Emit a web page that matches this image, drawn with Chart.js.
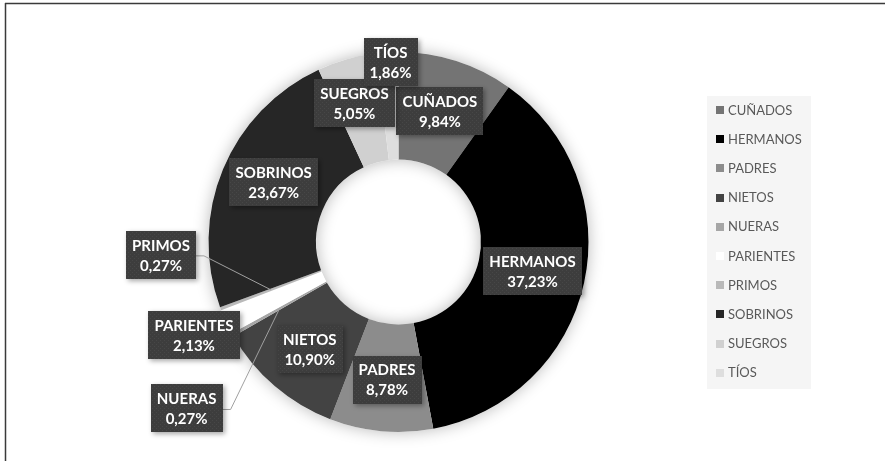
<!DOCTYPE html>
<html>
<head>
<meta charset="utf-8">
<script src="https://cdn.jsdelivr.net/npm/chart.js@4.4.1/dist/chart.umd.min.js"></script>
<style>
  html, body { margin: 0; padding: 0; background: #ffffff; }
  #wrap { width: 885px; height: 461px; position: relative; }
</style>
</head>
<body>
<div id="wrap"><canvas id="c" width="885" height="461"></canvas></div>
<script>
// Reparto por parentesco (%)
const categories = ['CUÑADOS', 'HERMANOS', 'PADRES', 'NIETOS', 'NUERAS', 'PARIENTES', 'PRIMOS', 'SOBRINOS', 'SUEGROS', 'TÍOS'];
const shares = [9.84, 37.23, 8.78, 10.90, 0.27, 2.13, 0.27, 23.67, 5.05, 1.86];
const sliceColors = ['#747474', '#000000', '#8c8c8c', '#434343', '#a6a6a6', '#ffffff', '#b9b9b9', '#262626', '#d0d0d0', '#dedede'];

// Desplazamiento de cada etiqueta respecto al centro de su sector (px)
const labelShift = [[0, -1], [1, 0], [1, 2], [0, 4], [-93, 100], [-81, 36], [-110, -35], [1, -8], [-7, -8], [0, -44]];
// Sectores cuya etiqueta se une con una línea guía
const withLeader = [false, false, false, false, true, false, true, false, false, false];

const LABEL_FONT = 'bold 15px Lato, "Open Sans", sans-serif';
const LEGEND_FONT = '13px Lato, "Open Sans", sans-serif';

function fmtPct(v) {
  return v.toFixed(2).replace('.', ',') + '%';
}

// Textura punteada de los cuadros de etiqueta
function makeDotPattern(ctx) {
  const p = document.createElement('canvas');
  p.width = 4; p.height = 4;
  const g = p.getContext('2d');
  g.fillStyle = '#3d3d3d';
  g.fillRect(0, 0, 4, 4);
  g.fillStyle = '#474747';
  g.fillRect(0, 0, 1, 1);
  g.fillRect(2, 2, 1, 1);
  return ctx.createPattern(p, 'repeat');
}

const decorPlugin = {
  id: 'decor',
  beforeDraw(chart) {
    const ctx = chart.ctx;
    ctx.save();
    // marco
    ctx.strokeStyle = '#3a3a3a';
    ctx.lineWidth = 1.5;
    ctx.beginPath();
    ctx.moveTo(5, 3.5); ctx.lineTo(885, 3.5);
    ctx.moveTo(5.5, 3); ctx.lineTo(5.5, 461);
    ctx.stroke();
    ctx.restore();
  },
  beforeDatasetsDraw(chart) {
    // sombra suave del anillo
    const meta = chart.getDatasetMeta(0);
    const a = meta.data[0];
    if (!a) return;
    const ctx = chart.ctx;
    ctx.save();
    ctx.shadowColor = 'rgba(0,0,0,0.28)';
    ctx.shadowBlur = 16;
    ctx.fillStyle = '#ffffff';
    ctx.beginPath();
    ctx.arc(a.x, a.y, a.outerRadius, 0, Math.PI * 2);
    ctx.arc(a.x, a.y, a.innerRadius, 0, Math.PI * 2, true);
    ctx.fill();
    ctx.restore();
  },
  afterDatasetsDraw(chart) {
    const ctx = chart.ctx;
    const meta = chart.getDatasetMeta(0);
    const ds = chart.data.datasets[0];
    const pattern = makeDotPattern(ctx);
    const boxes = [];

    meta.data.forEach((arc, i) => {
      const mid = (arc.startAngle + arc.endAngle) / 2;
      const r = (arc.innerRadius + arc.outerRadius) / 2;
      const px = arc.x + r * Math.cos(mid);
      const py = arc.y + r * Math.sin(mid);
      const cx = px + labelShift[i][0];
      const cy = py + labelShift[i][1];
      ctx.font = LABEL_FONT;
      const l1 = chart.data.labels[i];
      const l2 = fmtPct(ds.data[i]);
      const w = Math.ceil(Math.max(ctx.measureText(l1).width, ctx.measureText(l2).width)) + 12;
      const h = 48;
      boxes.push({ i, px, py, cx, cy, w, h, l1, l2 });
    });

    // líneas guía
    ctx.save();
    ctx.strokeStyle = '#a0a0a0';
    ctx.lineWidth = 1;
    boxes.forEach(b => {
      if (!withLeader[b.i]) return;
      const sx = b.cx + b.w / 2;
      const sy = b.cy + 1;
      ctx.beginPath();
      ctx.moveTo(sx, sy);
      ctx.lineTo(sx + 8, sy);
      ctx.lineTo(b.px, b.py);
      ctx.stroke();
    });
    ctx.restore();

    // cuadros de etiqueta
    boxes.forEach(b => {
      const x = Math.round(b.cx - b.w / 2);
      const y = Math.round(b.cy - b.h / 2);
      ctx.save();
      ctx.shadowColor = 'rgba(0,0,0,0.35)';
      ctx.shadowBlur = 5;
      ctx.shadowOffsetX = 2;
      ctx.shadowOffsetY = 2;
      ctx.fillStyle = pattern;
      ctx.fillRect(x, y, b.w, b.h);
      ctx.restore();
      ctx.save();
      ctx.fillStyle = '#ffffff';
      ctx.font = LABEL_FONT;
      ctx.textAlign = 'center';
      ctx.textBaseline = 'middle';
      ctx.fillText(b.l1, b.cx, b.cy - 9);
      ctx.fillText(b.l2, b.cx, b.cy + 11);
      ctx.restore();
    });
  },
  afterDraw(chart) {
    // leyenda
    const ctx = chart.ctx;
    const ds = chart.data.datasets[0];
    ctx.save();
    ctx.fillStyle = '#f5f5f5';
    ctx.fillRect(707, 96, 104, 293);
    ctx.font = LEGEND_FONT;
    ctx.textBaseline = 'middle';
    chart.data.labels.forEach((lab, i) => {
      const y = 110 + i * 29.2;
      ctx.fillStyle = ds.backgroundColor[i];
      ctx.fillRect(716, Math.round(y - 4), 8, 8);
      ctx.fillStyle = '#595959';
      ctx.fillText(lab, 728, y + 0.5);
    });
    ctx.restore();
  }
};

new Chart(document.getElementById('c'), {
  type: 'doughnut',
  data: {
    labels: categories,
    datasets: [{
      data: shares,
      backgroundColor: sliceColors,
      borderWidth: 0,
      radius: 190,
      cutout: 95
    }]
  },
  options: {
    responsive: false,
    animation: false,
    layout: { padding: { left: 0, right: 88, top: 23, bottom: 0 } },
    plugins: {
      legend: { display: false },
      tooltip: { enabled: false },
      title: { display: false }
    }
  },
  plugins: [decorPlugin]
});
</script>
</body>
</html>
